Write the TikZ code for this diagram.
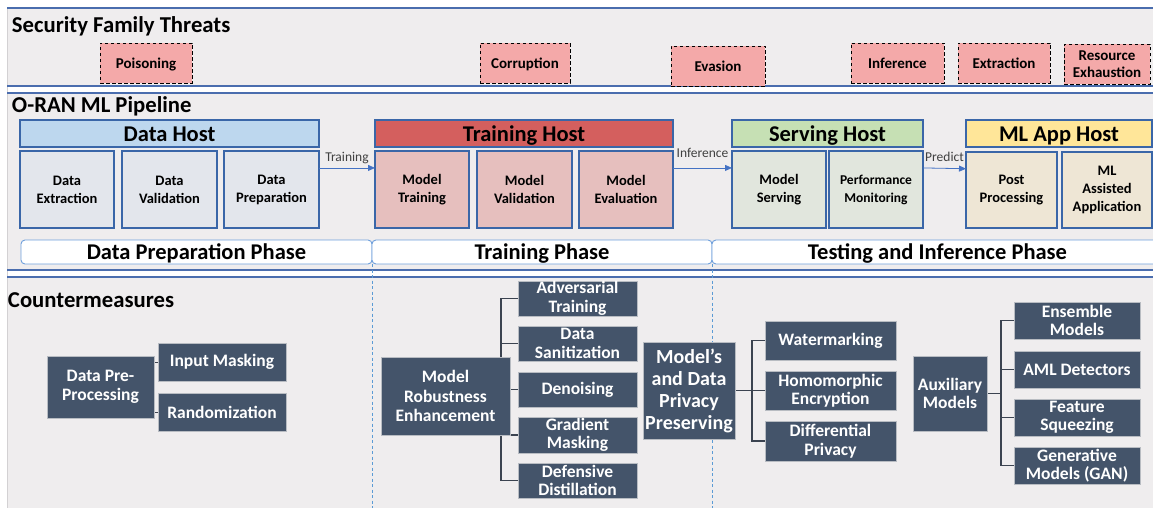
\documentclass[tikz,border=0pt]{standalone}
\usepackage{fontspec}
\setmainfont{Carlito}
\usetikzlibrary{arrows.meta,calc,backgrounds}

\definecolor{bgc}{HTML}{EFEDEE}
\definecolor{secblue}{HTML}{4A6DAE}
\definecolor{leftgray}{HTML}{D3D1D3}
\definecolor{threatpink}{HTML}{F4A9A9}
\definecolor{hostborder}{HTML}{3A66A8}
\definecolor{dhhdr}{HTML}{BDD7EE}
\definecolor{dhsub}{HTML}{E3E6EC}
\definecolor{thhdr}{HTML}{D45F5E}
\definecolor{thsub}{HTML}{E6BFBE}
\definecolor{shhdr}{HTML}{C6E0B4}
\definecolor{shsub}{HTML}{E1E6DD}
\definecolor{ahhdr}{HTML}{FFE699}
\definecolor{ahsub}{HTML}{EEE6D5}
\definecolor{phaseblue}{HTML}{6FA0DC}
\definecolor{dashblue}{HTML}{5B9BD5}
\definecolor{flowblue}{HTML}{4472C4}
\definecolor{lblgray}{HTML}{404040}
\definecolor{cmfill}{HTML}{44546A}
\definecolor{cmborder}{HTML}{B8BCC2}
\definecolor{cmline}{HTML}{3B4350}

\newcommand{\myfs}[2]{\fontsize{#1}{#2}\selectfont}
\newcommand{\mybox}[7]{\node[#6, minimum width={#4-#2}, minimum height={#5-#3}] (#1) at ({(#2+#4)/2},{(#3+#5)/2}) {#7};}

\begin{document}
\begin{tikzpicture}[x=1pt,y=-1pt,
  every node/.style={inner sep=0pt, outer sep=0pt},
  threatbox/.style={draw=black, fill=threatpink, dash pattern=on 3.5pt off 2.5pt, line width=0.9pt, align=center, font=\bfseries\myfs{15}{17}},
  oneline/.style={text height=11.5pt, text depth=0pt},
  hdrbox/.style={draw=hostborder, line width=1.2pt, text height=17pt, text depth=0pt, font=\bfseries\myfs{22.5}{26}},
  subbox/.style={draw=hostborder, line width=1.2pt, align=center, font=\bfseries\myfs{14.5}{18}},
  phasebox/.style={draw=phaseblue, line width=0.9pt, fill=white, rounded corners=4pt, text height=14pt, text depth=0pt, font=\bfseries\myfs{22.5}{26}},
  cmbox/.style={draw=cmborder, line width=0.6pt, fill=cmfill, text=white, align=center, font=\bfseries\myfs{17.5}{18.5}},
  connline/.style={draw=cmline, line width=1.3pt},
  thinconn/.style={draw=cmline, line width=0.6pt},
  flowarrow/.style={draw=flowblue, line width=0.8pt, -{Triangle[length=7pt,width=6pt]}},
  flowlbl/.style={font=\myfs{13.5}{16}, text=lblgray, text depth=0pt},
  titletext/.style={anchor=base west, font=\bfseries\myfs{22.7}{26}},
  secline/.style={draw=secblue, line width=1.2pt},
  phasesep/.style={draw=dashblue, line width=0.8pt, dash pattern=on 3pt off 2.5pt}]

\useasboundingbox (0,0) rectangle (1153,508);

\begin{scope}[on background layer]
\fill[white] (0,0) rectangle (1153,508);
\fill[bgc] (7,8) rectangle (1153,86);
\fill[bgc] (7,93) rectangle (1153,270);
\fill[bgc] (7,277) rectangle (1153,508);
\draw[leftgray, line width=0.8pt] (7,8) -- (7,508);
\draw[secline] (7,8) -- (1153,8);
\draw[secline] (7,86) -- (1153,86);
\draw[secline] (7,93) -- (1153,93);
\draw[secline] (7,270) -- (1153,270);
\draw[secline] (7,277) -- (1153,277);
\end{scope}

% section titles
\node[titletext] (t1) at (12,33) {Security Family Threats};
\node[titletext] (t2) at (12,113) {O-RAN ML Pipeline};
\node[titletext] (t3) at (8,307) {Countermeasures};

% threats
\mybox{poi}{100}{43}{192}{83}{threatbox, oneline}{Poisoning}
\mybox{cor}{480}{43}{570}{83}{threatbox, oneline}{Corruption}
\mybox{eva}{671}{46}{765}{86}{threatbox, oneline}{Evasion}
\mybox{inf}{851}{43}{944}{83}{threatbox, oneline}{Inference}
\mybox{ext}{958}{43}{1050}{83}{threatbox, oneline}{Extraction}
\mybox{res}{1064}{43}{1150}{83}{threatbox, yshift=-1.5pt}{Resource\\Exhaustion}

% host headers
\mybox{dh}{20}{120}{319}{147}{hdrbox, fill=dhhdr}{Data Host}
\mybox{th}{375}{120}{673}{147}{hdrbox, fill=thhdr}{Training Host}
\mybox{sh}{732}{120}{923}{147}{hdrbox, fill=shhdr}{Serving Host}
\mybox{ah}{966}{120}{1152}{147}{hdrbox, fill=ahhdr}{ML App Host}

% sub boxes
\mybox{dext}{20}{151}{114}{228}{subbox, fill=dhsub}{Data\\Extraction}
\mybox{dval}{122}{151}{217}{228}{subbox, fill=dhsub}{Data\\Validation}
\mybox{dprep}{224}{151}{319}{228}{subbox, fill=dhsub}{Data\\Preparation}
\mybox{mtrain}{375}{151}{469}{228}{subbox, fill=thsub}{Model\\Training}
\mybox{mval}{477}{151}{572}{228}{subbox, fill=thsub}{Model\\Validation}
\mybox{meval}{579}{151}{673}{228}{subbox, fill=thsub}{Model\\Evaluation}
\mybox{mserv}{732}{151}{826}{228}{subbox, fill=shsub}{Model\\Serving}
\mybox{perf}{829}{151}{923}{228}{subbox, fill=shsub, font=\bfseries\myfs{13.5}{18}}{Performance\\Monitoring}
\mybox{post}{966}{152}{1057}{228}{subbox, fill=ahsub}{Post\\Processing}
\mybox{mlapp}{1062}{152}{1152}{228}{subbox, fill=ahsub}{ML\\Assisted\\Application}

% flows
\draw[flowarrow] ($(dprep.north east)!0.22!(dprep.south east)$) -- ($(mtrain.north west)!0.22!(mtrain.south west)$) node[midway, above=6.5pt, flowlbl] (lt) {Training};
\draw[flowarrow] ($(meval.north east)!0.22!(meval.south east)$) -- ($(mserv.north west)!0.22!(mserv.south west)$) node[midway, above=10pt, flowlbl] (li) {Inference};
\draw[flowarrow] ($(perf.north east)!0.22!(perf.south east)$) -- ($(post.north west)!0.22!(post.south west)$) node[midway, above=7pt, flowlbl] (lp) {Predict};

% phases
\mybox{dph}{21}{240}{372}{264}{phasebox}{Data Preparation Phase}
\mybox{tph}{372}{240}{712}{264}{phasebox}{Training Phase}
\mybox{iph}{712}{240}{1163}{264}{phasebox}{Testing and Inference Phase}
\coordinate (e1) at (372,508);
\coordinate (e2) at (712,508);
\draw[phasesep] (dph.south east) -- (e1);
\draw[phasesep] (tph.south east) -- (e2);

% countermeasures
\mybox{dpp}{47}{356}{154}{418}{cmbox}{Data Pre-\\Processing}
\mybox{im}{158}{343}{286}{381}{cmbox}{Input Masking}
\mybox{rnd}{158}{393}{286}{431}{cmbox}{Randomization}

\mybox{mre}{381}{357}{510}{435}{cmbox, font=\bfseries\myfs{17.5}{19.5}}{Model\\Robustness\\Enhancement}
\mybox{adv}{518}{281}{637}{316}{cmbox}{Adversarial\\Training}
\mybox{ds}{518}{326}{637}{361}{cmbox}{Data\\Sanitization}
\mybox{den}{518}{372}{637}{407}{cmbox}{Denoising}
\mybox{gm}{518}{417}{637}{453}{cmbox}{Gradient\\Masking}
\mybox{dd}{518}{463}{637}{498}{cmbox}{Defensive\\Distillation}

\mybox{priv}{643}{342}{735}{439}{cmbox, font=\bfseries\myfs{20}{22}}{Model’s\\and Data\\Privacy\\Preserving}
\mybox{wm}{765}{321}{896}{360}{cmbox}{Watermarking}
\mybox{he}{765}{371}{896}{410}{cmbox}{Homomorphic\\Encryption}
\mybox{dp}{765}{421}{896}{461}{cmbox}{Differential\\Privacy}

\mybox{aux}{913}{356}{987}{431}{cmbox}{Auxiliary\\Models}
\mybox{ens}{1014}{302}{1140}{339}{cmbox}{Ensemble\\Models}
\mybox{aml}{1014}{351}{1140}{388}{cmbox}{AML Detectors}
\mybox{fsq}{1014}{399}{1140}{436}{cmbox}{Feature\\Squeezing}
\mybox{gan}{1014}{447}{1140}{484}{cmbox}{Generative\\Models (GAN)}

\coordinate (bus1) at (501,0);
\coordinate (bus2) at (752,0);
\coordinate (bus3) at (1001,0);

\begin{scope}[on background layer]
\draw[thinconn] (im.west) -- (im.west -| dpp.east);
\draw[thinconn] (rnd.west) -- (rnd.west -| dpp.east);
\draw[connline] (adv.west) -- (adv.west -| bus1) -- (dd.west -| bus1) -- (dd.west);
\draw[connline] (ds.west) -- (ds.west -| bus1);
\draw[connline] (gm.west) -- (gm.west -| bus1);
\draw[connline] (den.west) -- (den.west -| mre.east);
\draw[connline] (priv.east) -- (priv.east -| bus2);
\draw[connline] (wm.west) -- (wm.west -| bus2) -- (dp.west -| bus2) -- (dp.west);
\draw[connline] (he.west) -- (he.west -| bus2);
\draw[connline] (aux.east) -- (aux.east -| bus3);
\draw[connline] (ens.west) -- (ens.west -| bus3) -- (gan.west -| bus3) -- (gan.west);
\draw[connline] (aml.west) -- (aml.west -| bus3);
\draw[connline] (fsq.west) -- (fsq.west -| bus3);
\end{scope}
\end{tikzpicture}
\end{document}
